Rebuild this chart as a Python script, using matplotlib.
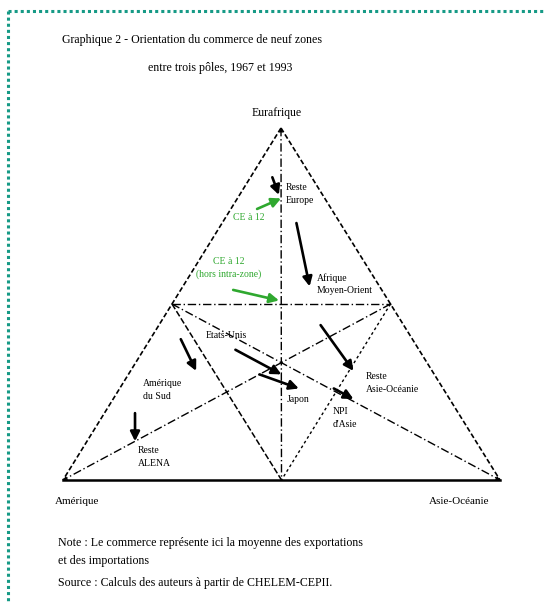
"""Triangle chart: orientation of trade of nine zones between three poles, 1967 and 1993."""

import matplotlib

matplotlib.use("Agg")
import matplotlib.pyplot as plt

plt.rcParams["font.family"] = ["Liberation Serif", "DejaVu Serif"]

# poles (ternary vertices)
poles = ["Eurafrique", "Amérique", "Asie-Océanie"]

# shares of trade (Eurafrique, Amérique, Asie-Océanie), 1967 -> 1993
zones = [
    "Reste Europe", "CE à 12", "CE à 12 hors intra", "Afrique Moyen-Orient",
    "Amérique du Sud", "Reste ALENA", "Etats-Unis", "Japon",
    "Reste Asie-Océanie", "NPI d'Asie",
]
share_1967 = [
    (0.86, 0.09, 0.05), (0.77, 0.17, 0.06), (0.54, 0.34, 0.12), (0.73, 0.10, 0.17),
    (0.40, 0.53, 0.07), (0.19, 0.74, 0.07), (0.37, 0.42, 0.21), (0.30, 0.40, 0.30),
    (0.44, 0.19, 0.37), (0.26, 0.25, 0.49),
]
share_1993 = [
    (0.81, 0.10, 0.09), (0.80, 0.10, 0.10), (0.51, 0.25, 0.24), (0.55, 0.16, 0.29),
    (0.31, 0.54, 0.15), (0.11, 0.78, 0.11), (0.30, 0.35, 0.35), (0.26, 0.33, 0.41),
    (0.31, 0.18, 0.51), (0.23, 0.22, 0.55),
]
zone_colors = ["black", "#2fa82f", "#2fa82f", "black", "black",
               "black", "black", "black", "black", "black"]

# pixel position of the three vertices on the page
TOP = (281, 128)
LEFT = (63, 480)
RIGHT = (500, 480)


def to_xy(share):
    e, a, p = share
    x = e * TOP[0] + a * LEFT[0] + p * RIGHT[0]
    y = e * TOP[1] + a * LEFT[1] + p * RIGHT[1]
    return x, y


def line(ax, s1, s2, **kw):
    (x1, y1), (x2, y2) = to_xy(s1), to_xy(s2)
    ax.plot([x1, x2], [y1, y2], color="black", **kw)


def tip(ax, s1, s2):
    # small arrow tip where a guide line meets a vertex
    ax.annotate("", xy=to_xy(s2), xytext=to_xy(s1),
                arrowprops=dict(arrowstyle="-|>", color="black", lw=0,
                                mutation_scale=8, shrinkA=0, shrinkB=0))


fig = plt.figure(figsize=(5.44, 6.04), dpi=100)
ax = fig.add_axes([0, 0, 1, 1])
ax.set_xlim(0, 544)
ax.set_ylim(604, 0)
ax.axis("off")

# page frame (top and left)
ax.plot([8, 544], [11, 11], color="#169a86", lw=2.2, ls=(0, (1, 1)))
ax.plot([8, 8], [11, 604], color="#169a86", lw=2.2, ls=(0, (1, 1)))

# triangle and guide lines
vE, vA, vP = (1, 0, 0), (0, 1, 0), (0, 0, 1)
mEA, mEP, mAP = (0.5, 0.5, 0), (0.5, 0, 0.5), (0, 0.5, 0.5)
line(ax, vE, vA, lw=1.2, ls=(0, (3, 1.5)))
line(ax, vE, vP, lw=1.2, ls=(0, (3, 1.5)))
line(ax, vA, vP, lw=1.8)
line(ax, vE, mAP, lw=1.0, ls=(0, (6, 2, 1, 2)))
line(ax, mEA, mEP, lw=1.0, ls=(0, (6, 2, 1, 2)))
line(ax, mEA, vP, lw=1.0, ls=(0, (6, 2, 1, 2)))
line(ax, mEP, vA, lw=1.0, ls=(0, (6, 2, 1, 2)))
line(ax, mEA, mAP, lw=1.1, ls=(0, (4, 1.5)))
line(ax, mEP, mAP, lw=1.0, ls=(0, (2, 2)))
tip(ax, mEP, vA)
tip(ax, mEA, vP)
tip(ax, mAP, vE)

# arrows 1967 -> 1993
for start, end, color in zip(share_1967, share_1993, zone_colors):
    ax.annotate(
        "", xy=to_xy(end), xytext=to_xy(start),
        arrowprops=dict(arrowstyle="-|>", color=color, lw=1.9,
                        mutation_scale=14, shrinkA=0, shrinkB=0),
    )

# zone labels
labels = [
    ("Reste\nEurope", 286, 194, "left", "black"),
    ("CE à 12", 249, 218, "center", "#2fa82f"),
    ("CE à 12\n(hors intra-zone)", 229, 268, "center", "#2fa82f"),
    ("Afrique\nMoyen-Orient", 317, 284, "left", "black"),
    ("Amérique\ndu Sud", 143, 390, "left", "black"),
    ("Reste\nALENA", 138, 457, "left", "black"),
    ("Etats-Unis", 206, 335, "left", "black"),
    ("Japon", 287, 400, "left", "black"),
    ("Reste\nAsie-Océanie", 366, 383, "left", "black"),
    ("NPI\nd'Asie", 333, 418, "left", "black"),
]
for text, x, y, ha, color in labels:
    ax.text(x, y, text, ha=ha, va="center", fontsize=7, color=color,
            linespacing=1.5)

# pole labels
ax.text(277, 113, poles[0], ha="center", va="center", fontsize=8.5)
ax.text(55, 502, poles[1], ha="left", va="center", fontsize=8)
ax.text(459, 501, poles[2], ha="center", va="center", fontsize=8)

# title and notes
ax.text(62, 40, "Graphique 2 - Orientation du commerce de neuf zones",
        ha="left", va="center", fontsize=8.6)
ax.text(148, 68, "entre trois pôles, 1967 et 1993", ha="left", va="center",
        fontsize=8.6)
ax.text(58, 543, "Note : Le commerce représente ici la moyenne des exportations",
        ha="left", va="center", fontsize=8.6)
ax.text(58, 561, "et des importations", ha="left", va="center", fontsize=8.6)
ax.text(58, 583, "Source : Calculs des auteurs à partir de CHELEM-CEPII.",
        ha="left", va="center", fontsize=8.6)

fig.savefig("out.png", dpi=100)
